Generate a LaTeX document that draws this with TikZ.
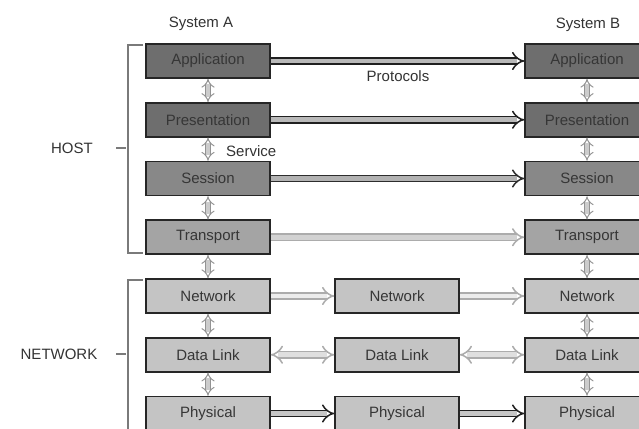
\documentclass[tikz,border=0pt]{standalone}
\usepackage{fontspec}
\setmainfont{Liberation Sans}
\usetikzlibrary{arrows.meta}
\definecolor{bordc}{HTML}{262626}
\definecolor{fillA}{HTML}{6E6E6E}
\definecolor{fillS}{HTML}{888888}
\definecolor{fillT}{HTML}{A4A4A4}
\definecolor{fillN}{HTML}{C4C4C4}
\definecolor{txtc}{HTML}{363636}
\definecolor{lblc}{HTML}{333333}
\definecolor{brc}{HTML}{7A7A7A}
\begin{document}
\begin{tikzpicture}[x=1pt,y=-1pt,
  layer/.style={draw=bordc, line width=1.6pt, fill=#1, minimum width=124pt, minimum height=34pt,
    inner sep=0pt, text=txtc, font=\fontsize{15}{17}\selectfont},
  lbl/.style={text=lblc, font=\fontsize{15}{17}\selectfont, inner sep=0pt},
  harr/.style={draw=#1, line width=1.5pt, double distance=4.8pt},
  tipr/.style={-{Implies[scale=1.4]}},
  tipb/.style={{Implies[scale=1.4]}-{Implies[scale=1.4]}},
  varr/.style={draw=gray!85, double=gray!40, line width=1pt, double distance=3.6pt, {Implies[scale=1.1]}-{Implies[scale=1.1]}},
  brk/.style={draw=brc, line width=1.3pt}]
\clip (0,0) rectangle (639,428);
\fill[white] (0,0) rectangle (639,428);
% rows
\foreach \n/\t/\f [count=\i from 0] in {app/Application/fillA, pre/Presentation/fillA, ses/Session/fillS, tra/Transport/fillT, net/Network/fillN, dl/Data Link/fillN, phy/Physical/fillN}{
  \node[layer=\f] (A\n) at (208,{61+58.75*\i}) {\t};
  \node[layer=\f] (B\n) at (587,{61+58.75*\i}) {\t};
}
\node[layer=fillN] (Mnet) at (397,{61+58.75*4}) {Network};
\node[layer=fillN] (Mdl) at (397,{61+58.75*5}) {Data Link};
\node[layer=fillN] (Mphy) at (397,{61+58.75*6}) {Physical};
% labels
\node[lbl] (sysA) at (201,24) {System A};
\node[lbl] (sysB) at (588,25) {System B};
\node[lbl] (prot) at (398,76) {Protocols};
\node[lbl, anchor=west] (serv) at (226,151) {Service};
\node[lbl] (host) at (72,148) {HOST};
\node[lbl] (netw) at (59,354) {NETWORK};
% horizontal protocol arrows
\draw[harr=gray!25!black, double=gray!55, tipr] (Aapp) -- (Bapp);
\draw[harr=gray!25!black, double=gray!55, tipr] (Apre) -- (Bpre);
\draw[harr=gray!35!black, double=gray!60, tipr] (Ases) -- (Bses);
\draw[harr=gray!65, double=gray!35, tipr] (Atra) -- (Btra);
\draw[harr=gray!65, double=gray!15, tipr] (Anet) -- (Mnet);
\draw[harr=gray!65, double=gray!15, tipr] (Mnet) -- (Bnet);
\draw[harr=gray!65, double=gray!25, tipb] (Adl) -- (Mdl);
\draw[harr=gray!65, double=gray!25, tipb] (Mdl) -- (Bdl);
\draw[harr=gray!25!black, double=gray!45, tipr] (Aphy) -- (Mphy);
\draw[harr=gray!25!black, double=gray!45, tipr] (Mphy) -- (Bphy);
% vertical service arrows
\foreach \u/\d in {app/pre, pre/ses, ses/tra, tra/net, net/dl, dl/phy}{
  \draw[varr] (A\u.south) -- (A\d.north);
  \draw[varr] (B\u.south) -- (B\d.north);
}
% brackets
\coordinate (h1) at (143,45);
\coordinate (h2) at (128,45);
\coordinate (h3) at (128,253);
\coordinate (h4) at (143,253);
\coordinate (hm1) at (116,148);
\coordinate (hm2) at (126,148);
\draw[brk] (h1) -- (h2) -- (h3) -- (h4);
\draw[brk] (hm1) -- (hm2);
\coordinate (n1) at (143,280);
\coordinate (n2) at (128,280);
\coordinate (n3) at (128,440);
\coordinate (nm1) at (116,354);
\coordinate (nm2) at (126,354);
\draw[brk] (n1) -- (n2) -- (n3);
\draw[brk] (nm1) -- (nm2);
\end{tikzpicture}
\end{document}
